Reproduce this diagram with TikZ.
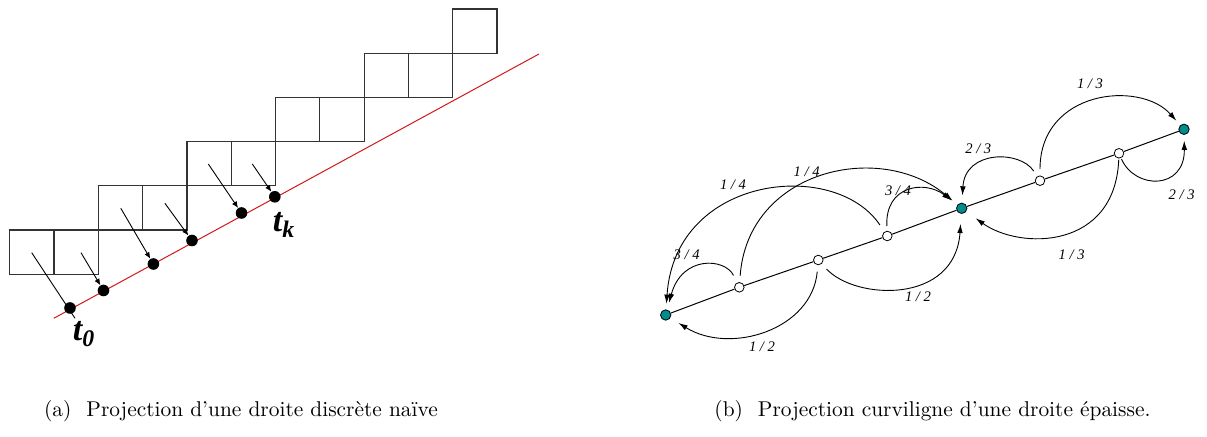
\documentclass[tikz,border=0pt]{standalone}
\usepackage{fontspec}
\usepackage{tikz}
\usetikzlibrary{arrows.meta,calc,positioning}
\newfontfamily\fraclabelfont{Liberation Serif}
\definecolor{hubteal}{RGB}{0,140,140}
\definecolor{axisred}{RGB}{210,25,25}
\newcommand{\cellw}{44.3}
\newcommand{\cellh}{44.2}

\begin{document}
\begin{tikzpicture}[x=0.5pt, y=-0.5pt, every node/.style={font=\small},
  cell/.style={draw=black!80, line width=0.6pt},
  projarrow/.style={-{Latex[length=3.2pt,width=2.8pt]}, line width=0.45pt},
  pixdot/.style={circle, fill=black, inner sep=0pt, minimum size=5.8pt},
  hub/.style={circle, draw=black, fill=hubteal, line width=0.4pt, inner sep=0pt, minimum size=5.2pt},
  stopmark/.style={circle, draw=black, fill=white, line width=0.4pt, inner sep=0pt, minimum size=4.8pt},
  jump/.style={-{Latex[length=4.6pt,width=2.8pt]}, line width=0.45pt},
  fraclabel/.style={font=\fraclabelfont\itshape\fontsize{7.3}{8}\selectfont, inner sep=0pt},
  tlabel/.style={font=\fraclabelfont\bfseries\itshape\fontsize{17}{18}\selectfont, inner sep=0pt},
  captiontext/.style={font=\fontsize{10.7}{12}\selectfont, inner sep=0pt}]
  \useasboundingbox (0,0) rectangle (1207,437);

  % (a) naive digital line and its projection
  \foreach \r in {0,...,4}
    \foreach \c in {0,1}
      \draw[cell] ({9.7+\cellw*(2*\r+\c)},{274.3-\cellh*\r}) rectangle ++(\cellw,-\cellh);
  \draw[cell] ({9.7+\cellw*10},{274.3-\cellh*5}) rectangle ++(\cellw,-\cellh);

  \coordinate (L0) at (53.8,318.3);
  \coordinate (L1) at (539,54);
  \draw[axisred, line width=0.5pt] (L0) -- (L1);

  \coordinate (p0) at (31.7,252.7);
  \coordinate (q0) at (75,318.3);
  \coordinate (p1) at (81,252.7);
  \coordinate (p2) at (120.8,208.3);
  \coordinate (p3) at (164.9,203.3);
  \coordinate (p4) at (208.3,164);
  \coordinate (p5) at (252.3,164);
  \draw[line width=0.45pt] (p0) -- (q0);
  \node[pixdot] (d0) at (70,308) {};
  \node[pixdot] (d1) at (103.5,290.5) {};
  \node[pixdot] (d2) at (153.4,264) {};
  \node[pixdot] (d3) at (192,240.5) {};
  \node[pixdot] (d4) at (241.5,213) {};
  \node[pixdot] (d5) at (274.8,196.8) {};
  \foreach \i in {1,...,5}
    \draw[projarrow] (p\i) -- (d\i);

  \node[tlabel] (t0) at (84,334) {t\textsubscript{0}};
  \node[tlabel] (tk) at (284,225) {t\textsubscript{k}};

  % (b) curvilinear projection of a thick line
  \node[hub] (A) at (665.7,315) {};
  \node[stopmark] (c1) at (739.3,287.3) {};
  \node[stopmark] (c2) at (818.3,260) {};
  \node[stopmark] (c3) at (887.3,236) {};
  \node[hub] (B) at (961.7,208.3) {};
  \node[stopmark] (c4) at (1040,180.7) {};
  \node[stopmark] (c5) at (1119,153.3) {};
  \node[hub] (C) at (1184,129.3) {};
  \draw[line width=0.5pt] (A) -- (c1) -- (c2) -- (c3) -- (B) -- (c4) -- (c5) -- (C);

  \draw[jump, shorten <=3.2pt, shorten >=4.7pt] (c2) .. controls (812,330) and (730,355) .. (A);
  \draw[jump, shorten <=3.5pt, shorten >=5pt] (c2) .. controls (855,300) and (955,305) .. (B);
  \draw[jump, shorten <=4pt, shorten >=2.8pt] (c3) .. controls (835,158) and (675,175) .. (A);
  \draw[jump, shorten <=3.2pt, shorten >=3.1pt] (c1) .. controls (748,170) and (880,140) .. (B);
  \draw[jump, shorten <=4pt, shorten >=3.5pt] (c1) .. controls (725,258) and (682,255) .. (A);
  \draw[jump, shorten <=2.4pt, shorten >=3.8pt] (c3) .. controls (885,185) and (925,180) .. (B);
  \draw[jump, shorten <=3.1pt, shorten >=3.6pt] (c4) .. controls (1020,150) and (965,150) .. (B);
  \draw[jump, shorten <=3.2pt, shorten >=2.9pt] (c4) .. controls (1040,90) and (1140,80) .. (C);
  \draw[jump, shorten <=0.6pt, shorten >=5.8pt] (c5) .. controls (1115,250) and (1020,250) .. (B);
  \draw[jump, shorten <=0.5pt, shorten >=2.9pt] (c5) .. controls (1135,190) and (1185,190) .. (C);

  \node[fraclabel] (h1) at (762,347) {1 / 2};
  \node[fraclabel] (h2) at (918,297) {1 / 2};
  \node[fraclabel] (q1) at (733,185) {1 / 4};
  \node[fraclabel] (q2) at (806.7,171.7) {1 / 4};
  \node[fraclabel] (q3) at (686.7,255) {3 / 4};
  \node[fraclabel] (q4) at (898,191) {3 / 4};
  \node[fraclabel] (r1) at (978.3,148.3) {2 / 3};
  \node[fraclabel] (r2) at (1090,83.3) {1 / 3};
  \node[fraclabel] (r3) at (1071.7,255) {1 / 3};
  \node[fraclabel] (r4) at (1181.7,195) {2 / 3};

  % captions
  \node[captiontext] (capa) at (241,411) {(a)\hspace{0.7em}Projection d’une droite discrète naïve};
  \node[captiontext] (capb) at (932.5,411) {(b)\hspace{0.7em}Projection curviligne d’une droite épaisse.};
\end{tikzpicture}
\end{document}
